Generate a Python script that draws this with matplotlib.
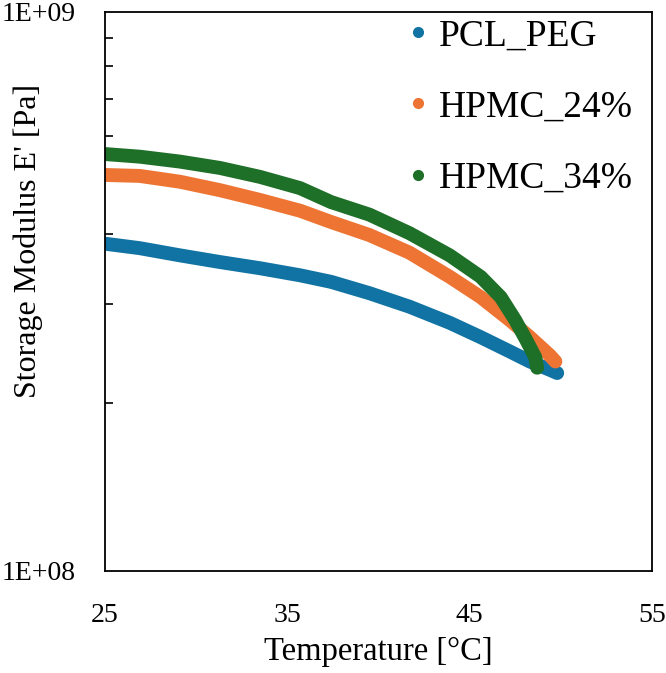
import matplotlib
matplotlib.use('Agg')
import matplotlib.pyplot as plt
from matplotlib.lines import Line2D
import numpy as np

plt.rcParams['font.family'] = ['Liberation Serif', 'DejaVu Serif']

# values (temperature in °C, E' in Pa)
t_pcl = [25, 26.9, 29.1, 31.3, 33.5, 35.7, 37.4, 39.5, 41.7, 43.9, 45.6, 47.2, 48.3, 49.4, 49.8]
e_pcl = [3.85e8, 3.78e8, 3.67e8, 3.57e8, 3.48e8, 3.38e8, 3.29e8, 3.14e8, 2.97e8, 2.78e8,
         2.62e8, 2.47e8, 2.37e8, 2.29e8, 2.26e8]

t_h24 = [25, 26.9, 29.1, 31.3, 33.5, 35.7, 37.4, 39.5, 41.7, 43.9, 45.6, 47.2, 48.3, 49.4, 49.7]
e_h24 = [5.11e8, 5.09e8, 4.97e8, 4.80e8, 4.61e8, 4.41e8, 4.21e8, 3.99e8, 3.71e8, 3.36e8,
         3.09e8, 2.81e8, 2.62e8, 2.43e8, 2.37e8]

t_h34 = [25, 26.9, 29.1, 31.3, 33.5, 35.7, 37.4, 39.5, 41.7, 43.9, 45.6, 46.7, 47.5, 48.1, 48.6, 48.7]
e_h34 = [5.57e8, 5.51e8, 5.40e8, 5.26e8, 5.07e8, 4.84e8, 4.57e8, 4.34e8, 4.02e8, 3.67e8,
         3.36e8, 3.09e8, 2.81e8, 2.59e8, 2.41e8, 2.31e8]

names = ['PCL_PEG', 'HPMC_24%', 'HPMC_34%']
colors = ['#1173A3', '#ED7432', '#1E6F27']
x_ticks = [25, 35, 45, 55]

fig = plt.figure(figsize=(6.66, 6.73), dpi=100)
ax = fig.add_axes([0.1577, 0.1516, 0.8213, 0.8306])

for t, e, c in zip([t_pcl, t_h24, t_h34], [e_pcl, e_h24, e_h34], colors):
    ax.plot(t, e, color=c, lw=10, solid_capstyle='round', solid_joinstyle='round')

ax.set_yscale('log')
ax.set_ylim(1e8, 1e9)
ax.set_xlim(25, 55)
ax.set_xticks(x_ticks)
ax.set_xticklabels([str(v) for v in x_ticks])
ax.set_yticks([1e8, 1e9])
ax.set_yticklabels(['1E+08', '1E+09'])
ax.set_yticks(np.arange(2, 10) * 1e8, minor=True)
ax.yaxis.set_minor_formatter(plt.NullFormatter())
ax.tick_params(axis='both', which='major', length=0, labelsize=20)
ax.tick_params(axis='x', pad=23)
ax.tick_params(axis='y', pad=21)
ax.tick_params(axis='y', which='minor', direction='in', length=6, width=1.2)
ax.tick_params(axis='x', which='minor', length=0)
for s in ax.spines.values():
    s.set_linewidth(1.3)

ax.set_xlabel('Temperature [°C]', fontsize=23.5, labelpad=6)
ax.set_ylabel("Storage Modulus E' [Pa]", fontsize=23)
ax.yaxis.set_label_coords(-0.113, 0.59)

handles = [Line2D([], [], ls='none', marker='o', ms=7, color=c) for c in colors]
ax.legend(handles, names, loc='upper left', frameon=False, fontsize=27,
          labelspacing=0.98, handletextpad=0.24, handlelength=0.6,
          borderpad=0, borderaxespad=0, bbox_to_anchor=(0.552, 0.988))

fig.savefig('out.png', dpi=100)
